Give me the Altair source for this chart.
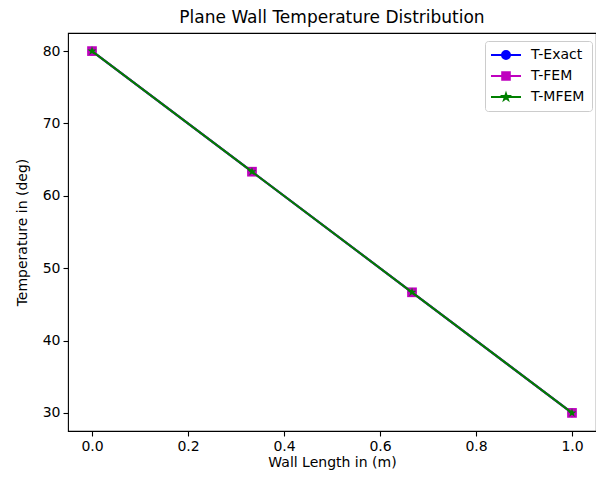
import math
import altair as alt
import pandas as pd

# ---- data ----
x_vals = [0.0, 0.3333, 0.6667, 1.0]
t_exact = [80.0, 63.333, 46.667, 30.0]
t_fem = [80.0, 63.333, 46.667, 30.0]
t_mfem = [80.0, 63.333, 46.667, 30.0]
series_names = ["T-Exact", "T-FEM", "T-MFEM"]
x_ticks = [0.0, 0.2, 0.4, 0.6, 0.8, 1.0]
y_ticks = [30, 40, 50, 60, 70, 80]

colors = ["#0000ff", "#bf00bf", "#008000"]

rows = []
for name, vals in zip(series_names, [t_exact, t_fem, t_mfem]):
    for xv, yv in zip(x_vals, vals):
        rows.append({"x": xv, "y": yv, "series": name})
df = pd.DataFrame(rows)


def star_pts(r, ri, dx=0.0):
    pts = []
    for k in range(10):
        ang = -math.pi / 2 + k * math.pi / 5
        rr = r if k % 2 == 0 else ri
        pts.append((dx + rr * math.cos(ang), rr * math.sin(ang)))
    return "M" + "L".join(f"{px:.3f},{py:.3f}" for px, py in pts) + "Z"


star_plot = star_pts(1.0, 0.382)

# legend symbols: line segment + marker (unit = 5px with size 100)
L = 3.0
leg_circle = f"M{-L},0H{L}M0.8,0A0.8,0.8,0,1,1,-0.8,0A0.8,0.8,0,1,1,0.8,0Z"
leg_square = f"M{-L},0H{L}M-0.76,-0.76H0.76V0.76H-0.76Z"
leg_star = f"M{-L},0H{L}" + star_pts(0.66, 0.26)

xenc = alt.X("x:Q", scale=alt.Scale(domain=[-0.05, 1.05], nice=False, zero=False),
             axis=alt.Axis(values=x_ticks, format=".1f", title="Wall Length in (m)"))
yenc = alt.Y("y:Q", scale=alt.Scale(domain=[27.5, 82.5], nice=False, zero=False),
             axis=alt.Axis(values=y_ticks, format="d", title="Temperature in (deg)"))

base = alt.Chart(df).encode(x=xenc, y=yenc)

shapes_plot = ["circle", "square", star_plot]
sizes_plot = [74, 94, 90]

layers = []
for name, col, shp, sz in zip(series_names, colors, shapes_plot, sizes_plot):
    sub = base.transform_filter(alt.datum.series == name)
    layers.append(sub.mark_line(color=col, strokeWidth=2.1))
    layers.append(sub.mark_point(color=col, filled=True, opacity=1, shape=shp, size=sz))

leg = alt.Legend(title=None, orient="none", legendX=417, legendY=8, padding=7,
                 strokeColor="#cccccc", cornerRadius=3, fillColor="rgba(255,255,255,0.8)",
                 symbolSize=100, symbolStrokeWidth=2, symbolOpacity=1,
                 labelFontSize=14, labelFont="DejaVu Sans", labelColor="black",
                 labelOffset=18, rowPadding=5, symbolOffset=7)

legend_layer = base.transform_filter(alt.datum.x < -100).mark_point(filled=True).encode(
    fill=alt.Fill("series:N", scale=alt.Scale(domain=series_names, range=colors), legend=leg),
    stroke=alt.Stroke("series:N", scale=alt.Scale(domain=series_names, range=colors), legend=leg),
    shape=alt.Shape("series:N", scale=alt.Scale(domain=series_names,
                                                range=[leg_circle, leg_square, leg_star]), legend=leg),
)
layers.append(legend_layer)

chart = alt.layer(*layers).properties(
    width=528, height=398,
    title=alt.Title("Plane Wall Temperature Distribution", fontSize=17, fontWeight="normal",
                    font="DejaVu Sans", color="black", offset=6),
    autosize=alt.AutoSizeParams(type="none"),
    padding={"left": 60, "top": 25, "right": 0, "bottom": 39},
).configure_view(stroke="black", strokeWidth=1.1).configure_axis(
    grid=False, domain=False, tickColor="black", tickSize=5, tickWidth=1.1,
    labelColor="black", labelFont="DejaVu Sans", labelFontSize=14,
    titleColor="black", titleFont="DejaVu Sans", titleFontSize=14, titleFontWeight="normal",
).configure_axisY(titlePadding=13, labelPadding=3).configure_axisX(titlePadding=2, labelPadding=3)

chart.save("out.html", embed_options={"renderer": "svg", "actions": False})
